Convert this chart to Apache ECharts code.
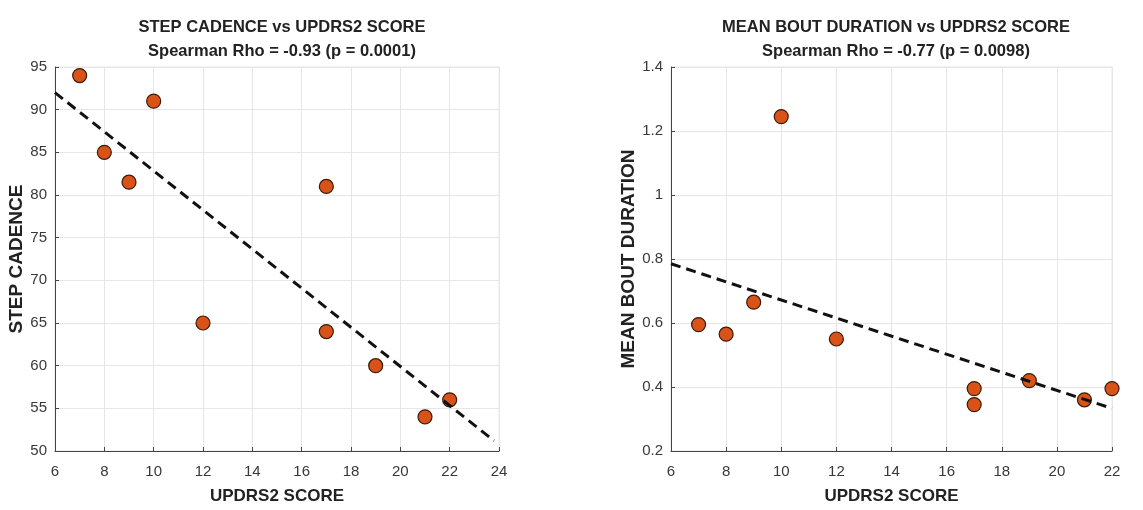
<!DOCTYPE html>
<html>
<head>
<meta charset="utf-8">
<script src="https://cdn.jsdelivr.net/npm/echarts@6/dist/echarts.min.js"></script>
<style>
  html, body { margin: 0; padding: 0; background: #fff; }
  #main { width: 1143px; height: 510px; }
</style>
</head>
<body>
<div id="main"></div>
<script>
// UPDRS2 score of each subject (shared by both panels)
const updrs2 = [7, 8, 9, 10, 12, 17, 17, 19, 21, 22];
// left panel: step cadence
const stepCadence = [94, 85, 81.5, 91, 65, 81, 64, 60, 54, 56];
// right panel: mean bout duration
const boutDuration = [0.595, 0.565, 0.665, 1.245, 0.55, 0.395, 0.345, 0.42, 0.36, 0.395];
// dashed fit lines, endpoints
const cadenceFit = [[6, 92], [23.8, 51.2]];
const boutFit = [[6, 0.785], [22, 0.333]];

const FONT = '"Liberation Sans", Arial, sans-serif';
const markerColor = '#D95319';

const pairs = (xs, ys) => xs.map((x, i) => [x, ys[i]]);

const chart = echarts.init(document.getElementById('main'));

const axisCommon = {
  type: 'value',
  axisLine: { show: true, lineStyle: { color: '#444', width: 1 } },
  axisTick: { show: true, inside: true, length: 4, lineStyle: { color: '#444' } },
  splitLine: { show: true, lineStyle: { color: '#e6e6e6', width: 1 } },
  axisLabel: { color: '#383838', fontSize: 15, fontFamily: FONT },
  nameTextStyle: { color: '#222', fontSize: 17, fontWeight: 'bold', fontFamily: FONT },
  nameLocation: 'middle'
};

const titleText = { fontSize: 16.5, fontWeight: 'bold', color: '#222', fontFamily: FONT };
const subText = { fontSize: 16.5, fontWeight: 'bold', color: '#222', fontFamily: FONT };

const option = {
  animation: false,
  title: [
    {
      text: 'STEP CADENCE vs UPDRS2 SCORE',
      subtext: 'Spearman Rho = -0.93 (p = 0.0001)',
      left: 277, top: 14, textAlign: 'center', itemGap: 7,
      textStyle: titleText, subtextStyle: subText
    },
    {
      text: 'MEAN BOUT DURATION vs UPDRS2 SCORE',
      subtext: 'Spearman Rho = -0.77 (p = 0.0098)',
      left: 891, top: 14, textAlign: 'center', itemGap: 7,
      textStyle: titleText, subtextStyle: subText
    }
  ],
  grid: [
    { left: 55, right: 644, top: 67, bottom: 57, show: true, borderColor: '#e6e6e6', borderWidth: 1 },
    { left: 671, right: 31, top: 67, bottom: 57, show: true, borderColor: '#e6e6e6', borderWidth: 1 }
  ],
  xAxis: [
    Object.assign({}, axisCommon, {
      gridIndex: 0, min: 6, max: 24, interval: 2,
      axisLabel: Object.assign({}, axisCommon.axisLabel, { margin: 13 }),
      name: 'UPDRS2 SCORE', nameGap: 37
    }),
    Object.assign({}, axisCommon, {
      gridIndex: 1, min: 6, max: 22, interval: 2,
      axisLabel: Object.assign({}, axisCommon.axisLabel, { margin: 13 }),
      name: 'UPDRS2 SCORE', nameGap: 37
    })
  ],
  yAxis: [
    Object.assign({}, axisCommon, {
      gridIndex: 0, min: 50, max: 95, interval: 5,
      nameTextStyle: Object.assign({}, axisCommon.nameTextStyle, { fontSize: 19 }),
      name: 'STEP CADENCE', nameGap: 26
    }),
    Object.assign({}, axisCommon, {
      gridIndex: 1, min: 0.2, max: 1.4, interval: 0.2,
      nameTextStyle: Object.assign({}, axisCommon.nameTextStyle, { fontSize: 19 }),
      name: 'MEAN BOUT DURATION', nameGap: 31
    })
  ],
  series: [
    {
      type: 'line', xAxisIndex: 0, yAxisIndex: 0,
      data: cadenceFit, symbol: 'none',
      lineStyle: { color: '#111', width: 3, type: [10, 6] }
    },
    {
      type: 'scatter', xAxisIndex: 0, yAxisIndex: 0,
      data: pairs(updrs2, stepCadence), symbolSize: 14,
      itemStyle: { color: markerColor, borderColor: '#3a1a0a', borderWidth: 1.2, opacity: 1 }
    },
    {
      type: 'line', xAxisIndex: 1, yAxisIndex: 1,
      data: boutFit, symbol: 'none',
      lineStyle: { color: '#111', width: 3, type: [10, 6] }
    },
    {
      type: 'scatter', xAxisIndex: 1, yAxisIndex: 1,
      data: pairs(updrs2, boutDuration), symbolSize: 14, clip: false,
      itemStyle: { color: markerColor, borderColor: '#3a1a0a', borderWidth: 1.2, opacity: 1 }
    }
  ]
};

chart.setOption(option);
window.addEventListener('resize', () => {
  chart.resize();
});
</script>
</body>
</html>
